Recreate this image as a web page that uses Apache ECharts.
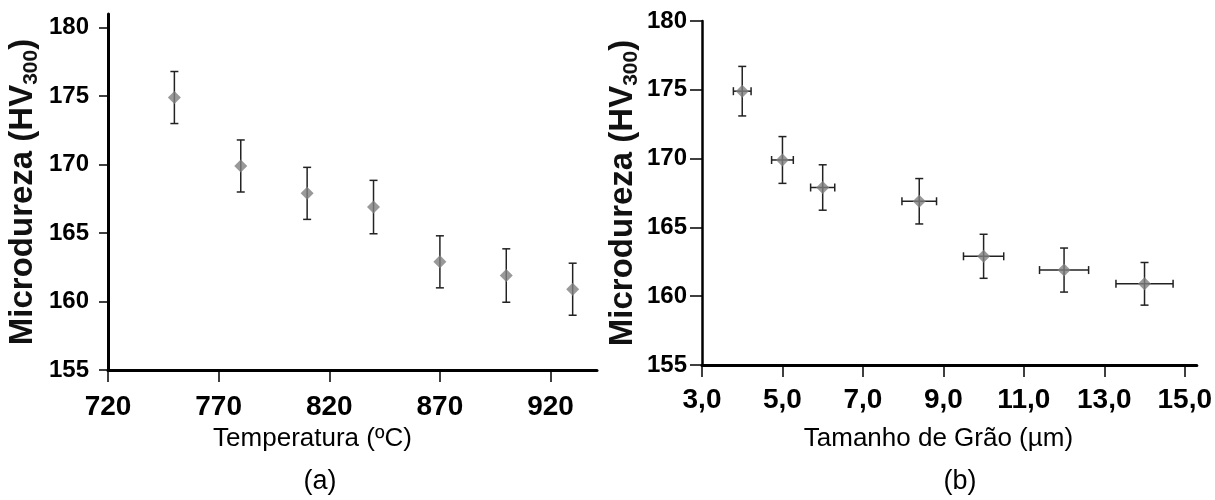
<!DOCTYPE html>
<html lang="pt">
<head>
    <meta charset="UTF-8">
    <title>Microdureza</title>
    <script src="https://cdn.jsdelivr.net/npm/echarts@6.0.0/dist/echarts.min.js"></script>
    <style>
        html, body { margin: 0; padding: 0; background: #fff; }
        #main { width: 1215px; height: 500px; }
    </style>
</head>
<body>
<div id="main"></div>
<script type="text/javascript">
    // (a) temperatura x microdureza
    var tempC = [750, 780, 810, 840, 870, 900, 930];
    var hardnessA = [174.9, 169.9, 167.9, 166.9, 162.9, 161.9, 160.9];
    var hardnessErrA = [1.9, 1.9, 1.9, 1.95, 1.9, 1.95, 1.9];
    var tempTicks = [720, 770, 820, 870, 920];

    // (b) tamanho de grao x microdureza
    var grainSize = [4.0, 5.0, 6.0, 8.4, 10.0, 12.0, 14.0];
    var grainErr = [0.22, 0.27, 0.3, 0.43, 0.5, 0.61, 0.71];
    var hardnessB = [174.9, 169.9, 167.9, 166.9, 162.9, 161.9, 160.9];
    var hardnessErrB = [1.8, 1.7, 1.65, 1.65, 1.6, 1.6, 1.55];
    var grainTicks = [3, 5, 7, 9, 11, 13, 15];

    var hvTicks = [155, 160, 165, 170, 175, 180];

    var narrow = '"Liberation Sans Narrow", "Liberation Sans", Arial, sans-serif';
    var sans = '"Liberation Sans", Arial, sans-serif';

    var myChart = echarts.init(document.getElementById('main'), null, {renderer: 'canvas'});

    var pointsA = tempC.map(function (t, i) { return [t, hardnessA[i]]; });
    var barsA = tempC.map(function (t, i) { return [t, hardnessA[i], hardnessErrA[i]]; });
    var pointsB = grainSize.map(function (g, i) { return [g, hardnessB[i]]; });
    var barsB = grainSize.map(function (g, i) { return [g, hardnessB[i], grainErr[i], hardnessErrB[i]]; });

    var barStyle = {stroke: '#222', lineWidth: 1.5};

    function vBar(api, x, y, e, cap) {
        var top = api.coord([x, y + e]);
        var bot = api.coord([x, y - e]);
        return [
            {type: 'line', shape: {x1: top[0], y1: top[1], x2: bot[0], y2: bot[1]}, style: barStyle},
            {type: 'line', shape: {x1: top[0] - cap, y1: top[1], x2: top[0] + cap, y2: top[1]}, style: barStyle},
            {type: 'line', shape: {x1: bot[0] - cap, y1: bot[1], x2: bot[0] + cap, y2: bot[1]}, style: barStyle}
        ];
    }

    function hBar(api, x, y, e, cap) {
        var l = api.coord([x - e, y]);
        var r = api.coord([x + e, y]);
        return [
            {type: 'line', shape: {x1: l[0], y1: l[1], x2: r[0], y2: r[1]}, style: barStyle},
            {type: 'line', shape: {x1: l[0], y1: l[1] - cap, x2: l[0], y2: l[1] + cap}, style: barStyle},
            {type: 'line', shape: {x1: r[0], y1: r[1] - cap, x2: r[0], y2: r[1] + cap}, style: barStyle}
        ];
    }

    function hvName() {
        return {
            name: '{t|Microdureza (HV}{s|300}{t|)}',
            nameLocation: 'middle',
            nameTextStyle: {
                rich: {
                    t: {fontSize: 33, fontWeight: 'bold', fontFamily: sans, color: '#111', lineHeight: 38},
                    s: {fontSize: 21, fontWeight: 'bold', fontFamily: sans, color: '#111', verticalAlign: 'bottom', lineHeight: 31}
                }
            }
        };
    }

    var yA = hvName();
    var yB = hvName();

    var option = {
        animation: false,
        title: [
            {text: '(a)', left: 315, top: 463, textAlign: 'center',
                textStyle: {fontSize: 27, fontWeight: 'normal', fontFamily: narrow, color: '#000'}},
            {text: '(b)', left: 955, top: 463, textAlign: 'center',
                textStyle: {fontSize: 27, fontWeight: 'normal', fontFamily: narrow, color: '#000'}}
        ],
        grid: [
            {left: 108, top: 14, width: 489, height: 356},
            {left: 702, top: 21, width: 498, height: 344}
        ],
        xAxis: [
            {
                gridIndex: 0, type: 'value', min: 720, max: 941,
                name: 'Temperatura (ºC)', nameLocation: 'middle', nameGap: 56,
                nameTextStyle: {fontSize: 26, fontFamily: narrow, color: '#000', padding: [0, 80, 0, 0]},
                axisLine: {onZero: false, lineStyle: {color: '#000', width: 3}},
                axisTick: {show: true, length: 12, lineStyle: {color: '#000', width: 1.5}, customValues: tempTicks},
                axisLabel: {margin: 23, fontSize: 28, fontWeight: 'bold', fontFamily: narrow, color: '#000', customValues: tempTicks},
                splitLine: {show: false}
            },
            {
                gridIndex: 1, type: 'value', min: 3, max: 15.3,
                name: 'Tamanho de Grão (µm)', nameLocation: 'middle', nameGap: 61,
                nameTextStyle: {fontSize: 26, fontFamily: narrow, color: '#000', padding: [0, 22, 0, 0]},
                axisLine: {onZero: false, lineStyle: {color: '#000', width: 3}},
                axisTick: {show: true, length: 12, lineStyle: {color: '#000', width: 1.5}, customValues: grainTicks},
                axisLabel: {
                    margin: 21, fontSize: 28, fontWeight: 'bold', fontFamily: narrow, color: '#000', customValues: grainTicks,
                    formatter: function (v) { return v.toFixed(1).replace('.', ','); }
                },
                splitLine: {show: false}
            }
        ],
        yAxis: [
            Object.assign(yA, {
                gridIndex: 0, type: 'value', min: 155, max: 181, nameGap: 66,
                axisLine: {onZero: false, lineStyle: {color: '#000', width: 3}},
                axisTick: {show: true, length: 9, lineStyle: {color: '#000', width: 1.5}, customValues: hvTicks},
                axisLabel: {margin: 19, fontSize: 24, fontWeight: 'bold', fontFamily: sans, color: '#000', customValues: hvTicks},
                splitLine: {show: false}
            }),
            Object.assign(yB, {
                gridIndex: 1, type: 'value', min: 155, max: 180, interval: 5, nameGap: 60,
                axisLine: {onZero: false, lineStyle: {color: '#000', width: 2.5}},
                axisTick: {show: true, length: 12, lineStyle: {color: '#000', width: 1.5}},
                axisLabel: {margin: 15, fontSize: 24, fontWeight: 'bold', fontFamily: sans, color: '#000'},
                splitLine: {show: false}
            })
        ],
        series: [
            {
                type: 'custom', xAxisIndex: 0, yAxisIndex: 0, data: barsA, z: 2,
                renderItem: function (params, api) {
                    return {type: 'group', children: vBar(api, api.value(0), api.value(1), api.value(2), 4)};
                }
            },
            {
                type: 'scatter', xAxisIndex: 0, yAxisIndex: 0, data: pointsA, z: 3,
                symbol: 'diamond', symbolSize: [13, 13], itemStyle: {color: '#808080'}
            },
            {
                type: 'custom', xAxisIndex: 1, yAxisIndex: 1, data: barsB, z: 2,
                renderItem: function (params, api) {
                    var x = api.value(0), y = api.value(1);
                    return {
                        type: 'group',
                        children: vBar(api, x, y, api.value(3), 4).concat(hBar(api, x, y, api.value(2), 4))
                    };
                }
            },
            {
                type: 'scatter', xAxisIndex: 1, yAxisIndex: 1, data: pointsB, z: 3,
                symbol: 'diamond', symbolSize: [13, 13], itemStyle: {color: '#808080'}
            }
        ]
    };

    myChart.setOption(option);
</script>
</body>
</html>
